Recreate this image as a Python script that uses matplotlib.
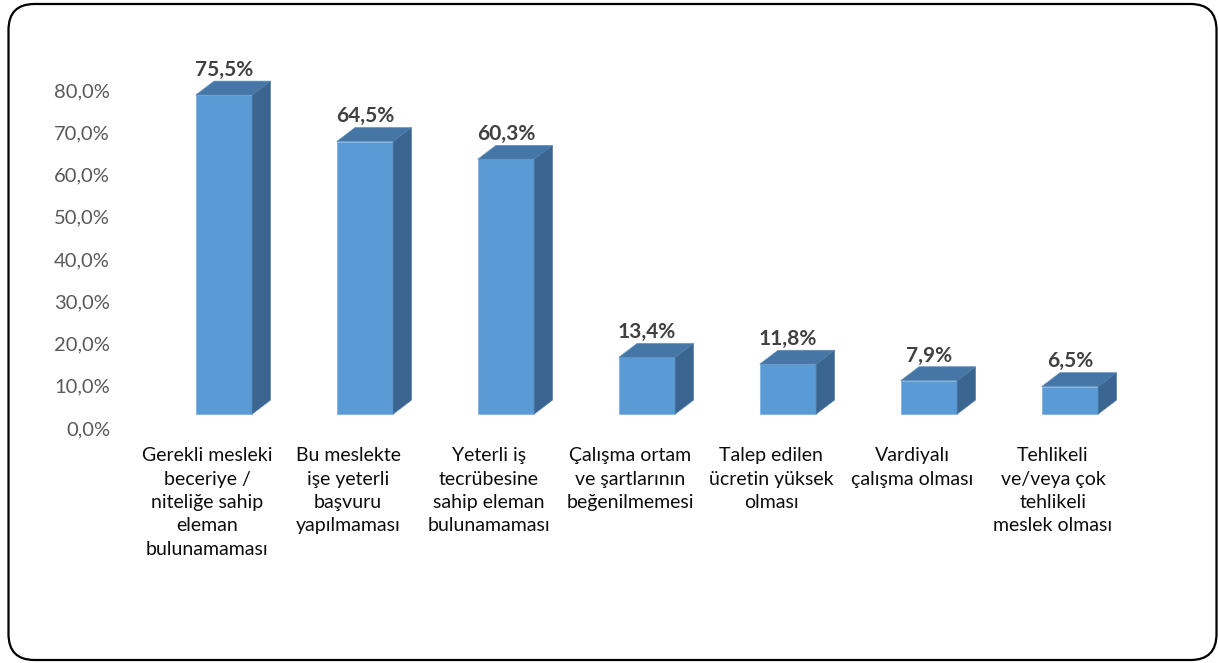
import matplotlib
matplotlib.use("Agg")
import matplotlib.pyplot as plt
from matplotlib.patches import Polygon, FancyBboxPatch

plt.rcParams['font.family'] = ['Lato', 'DejaVu Sans']

categories = [
    "Gerekli mesleki\nbeceriye /\nniteliğe sahip\neleman\nbulunamaması",
    "Bu meslekte\nişe yeterli\nbaşvuru\nyapılmaması",
    "Yeterli iş\ntecrübesine\nsahip eleman\nbulunamaması",
    "Çalışma ortam\nve şartlarının\nbeğenilmemesi",
    "Talep edilen\nücretin yüksek\nolması",
    "Vardiyalı\nçalışma olması",
    "Tehlikeli\nve/veya çok\ntehlikeli\nmeslek olması",
]
values = [75.5, 64.5, 60.3, 13.4, 11.8, 7.9, 6.5]
value_labels = ["75,5%", "64,5%", "60,3%", "13,4%", "11,8%", "7,9%", "6,5%"]
yticks = [0, 10, 20, 30, 40, 50, 60, 70, 80]
ytick_labels = ["0,0%", "10,0%", "20,0%", "30,0%", "40,0%", "50,0%", "60,0%", "70,0%", "80,0%"]

W, H = 1219, 663
fig = plt.figure(figsize=(W / 100, H / 100), dpi=100)

# overlay for border
bg = fig.add_axes([0, 0, 1, 1])
bg.set_xlim(0, W)
bg.set_ylim(H, 0)
bg.axis('off')
bg.add_patch(FancyBboxPatch((8.5, 4), 1208, 656, boxstyle="round,pad=0,rounding_size=26",
                            fill=False, edgecolor='black', linewidth=1.6))

px_per_unit = 4.225
ax_left, ax_width = 136.5, 987
ax_bottom_px, ax_top_px = 428, 60
ax = fig.add_axes([ax_left / W, (H - ax_bottom_px) / H, ax_width / W, (ax_bottom_px - ax_top_px) / H])
ax.set_xlim(-0.5, 6.5)
ax.set_ylim(0, (ax_bottom_px - ax_top_px) / px_per_unit)
for s in ax.spines.values():
    s.set_visible(False)
ax.patch.set_alpha(0)

front_col = '#5B9BD5'
top_col = '#4676A6'
side_col = '#3A6590'
shift = 0.12
w = 0.40
dx = 0.13
dy = 3.3
floor = 3.3

xs = [i + shift for i in range(len(values))]
ax.bar(xs, values, width=w, bottom=floor, color=front_col, edgecolor='#7FB2E0', linewidth=0.6, zorder=2)
for x, v, lab in zip(xs, values, value_labels):
    x0, x1 = x - w / 2, x + w / 2
    top = floor + v
    ax.add_patch(Polygon([(x0, top), (x1, top), (x1 + dx, top + dy), (x0 + dx, top + dy)],
                         closed=True, facecolor=top_col, edgecolor='#5E8FBF', linewidth=0.5, zorder=3))
    ax.add_patch(Polygon([(x1, floor), (x1 + dx, floor + dy), (x1 + dx, top + dy), (x1, top)],
                         closed=True, facecolor=side_col, edgecolor='#4F7BA6', linewidth=0.5, zorder=3))
    ax.text(x, top + dy + 0.3, lab, ha='center', va='bottom', fontsize=15, fontweight='bold',
            color='#404040', clip_on=False, zorder=4)

ax.set_yticks(yticks)
ax.set_yticklabels(ytick_labels, fontsize=14.5, color='#595959')
ax.tick_params(axis='y', length=0, pad=19)
ax.set_xticks(range(len(categories)))
ax.set_xticklabels(categories, fontsize=14, color='#0d0d0d', linespacing=1.45)
ax.tick_params(axis='x', length=0, pad=14)

fig.savefig("out.png", dpi=100)
